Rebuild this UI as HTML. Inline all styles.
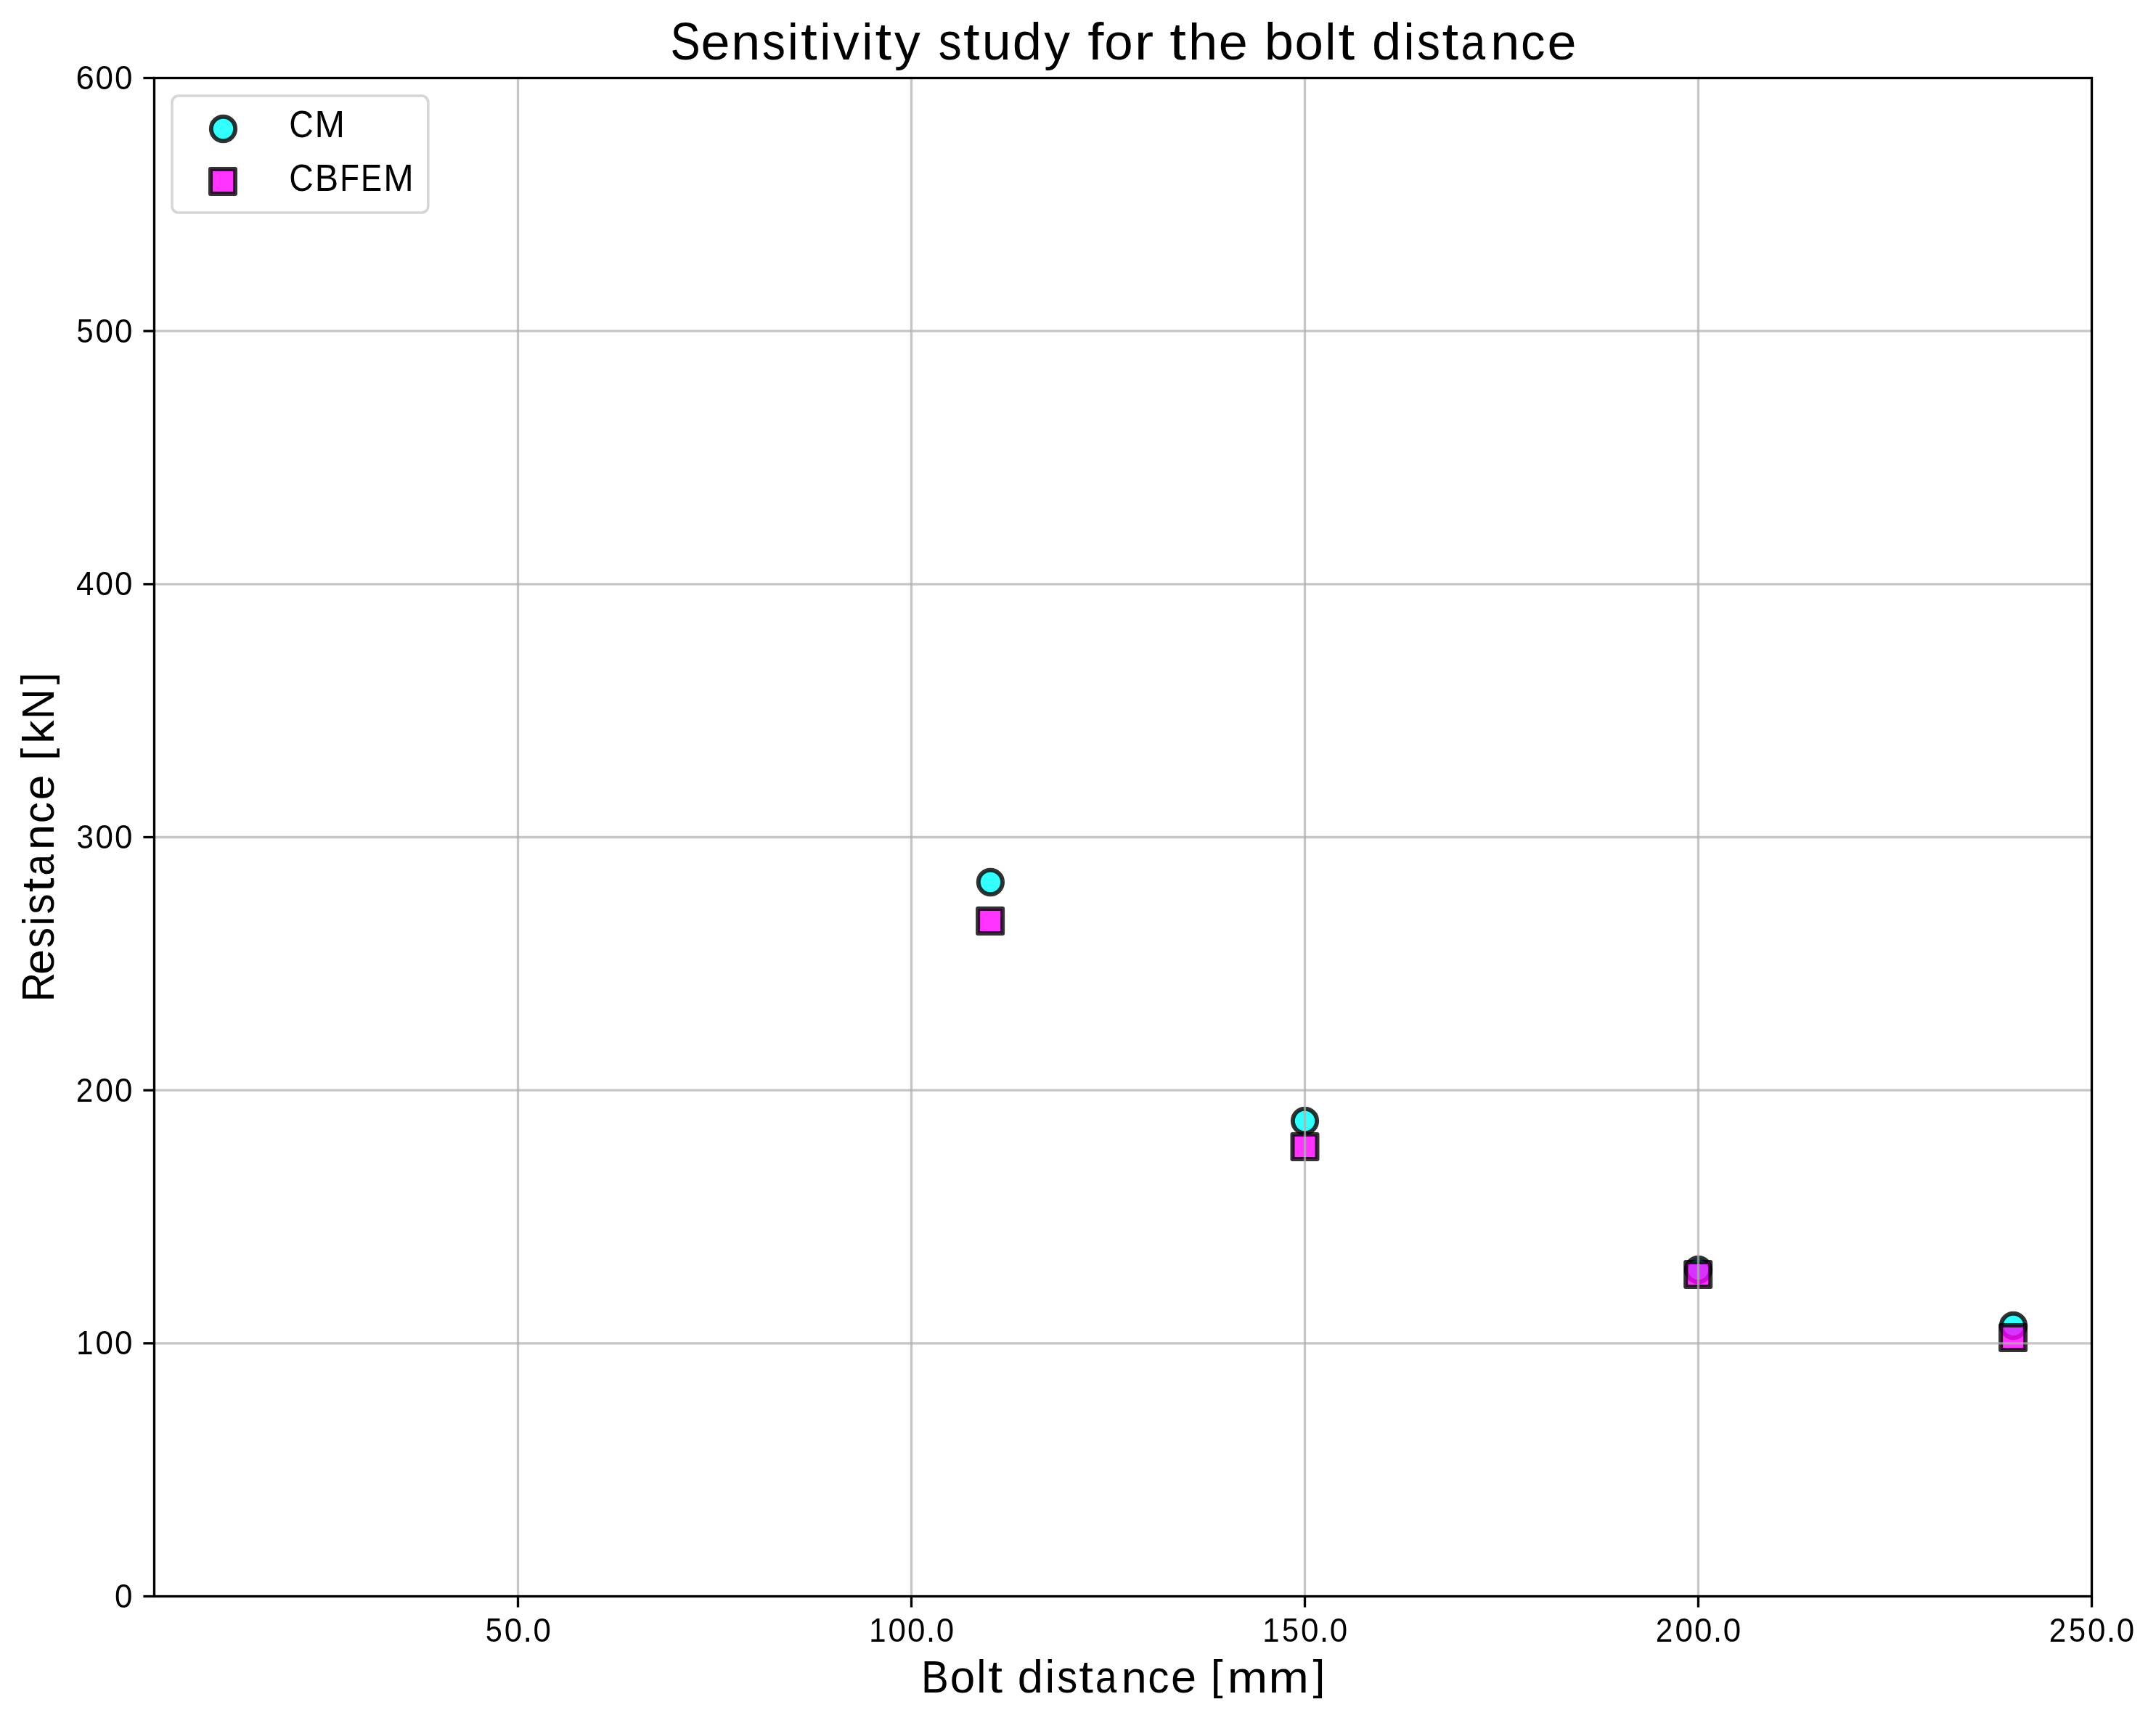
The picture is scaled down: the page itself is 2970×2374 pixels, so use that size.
<!DOCTYPE html>
<html><head><meta charset="utf-8">
<style>
html,body{margin:0;padding:0;background:#fff;width:2970px;height:2374px;overflow:hidden;}
svg{display:block;will-change:transform;}
text{font-family:"Liberation Sans",sans-serif;fill:#000;}
</style></head>
<body>
<svg width="2970" height="2374" viewBox="0 0 2970 2374">
<rect x="0" y="0" width="2970" height="2374" fill="#fff"/>
<g stroke="rgba(0,0,0,0.8)" stroke-width="6.0" stroke-linejoin="round">
<g fill="rgba(0,255,255,0.8)">
<circle cx="1364.40" cy="1215.50" r="16.65"/>
<circle cx="1797.50" cy="1544.50" r="16.65"/>
<circle cx="2339.50" cy="1749.50" r="16.65"/>
<circle cx="2773.50" cy="1826.50" r="16.65"/>
</g>
<g fill="rgba(255,0,255,0.8)">
<rect x="1347.10" y="1252.00" width="34.0" height="34.0"/>
<rect x="1780.50" y="1563.00" width="34.0" height="34.0"/>
<rect x="2322.20" y="1738.90" width="34.0" height="34.0"/>
<rect x="2756.10" y="1826.10" width="34.0" height="34.0"/>
</g>
</g>
<g stroke="rgba(176,176,176,0.72)" stroke-width="3.33">
<line x1="713.50" y1="107.5" x2="713.50" y2="2199.5"/>
<line x1="1255.50" y1="107.5" x2="1255.50" y2="2199.5"/>
<line x1="1797.50" y1="107.5" x2="1797.50" y2="2199.5"/>
<line x1="2339.50" y1="107.5" x2="2339.50" y2="2199.5"/>
<line x1="212.5" y1="1850.83" x2="2881.5" y2="1850.83"/>
<line x1="212.5" y1="1502.17" x2="2881.5" y2="1502.17"/>
<line x1="212.5" y1="1153.50" x2="2881.5" y2="1153.50"/>
<line x1="212.5" y1="804.83" x2="2881.5" y2="804.83"/>
<line x1="212.5" y1="456.17" x2="2881.5" y2="456.17"/>
</g>
<rect x="212.5" y="107.5" width="2669.0" height="2092.0" fill="none" stroke="#000" stroke-width="3.33"/>
<g stroke="#000" stroke-width="3.33">
<line x1="197.40" y1="2199.50" x2="212.5" y2="2199.50"/>
<line x1="197.40" y1="1850.83" x2="212.5" y2="1850.83"/>
<line x1="197.40" y1="1502.17" x2="212.5" y2="1502.17"/>
<line x1="197.40" y1="1153.50" x2="212.5" y2="1153.50"/>
<line x1="197.40" y1="804.83" x2="212.5" y2="804.83"/>
<line x1="197.40" y1="456.17" x2="212.5" y2="456.17"/>
<line x1="197.40" y1="107.50" x2="212.5" y2="107.50"/>
<line x1="713.50" y1="2199.5" x2="713.50" y2="2214.60"/>
<line x1="1255.50" y1="2199.5" x2="1255.50" y2="2214.60"/>
<line x1="1797.50" y1="2199.5" x2="1797.50" y2="2214.60"/>
<line x1="2339.50" y1="2199.5" x2="2339.50" y2="2214.60"/>
<line x1="2881.50" y1="2199.5" x2="2881.50" y2="2214.60"/>
</g>
<text transform="translate(156.99 2215.00)"><tspan x="1.03" y="0" font-size="45.85" textLength="24.43" lengthAdjust="spacingAndGlyphs">0</tspan></text>
<text transform="translate(103.96 1866.00)"><tspan x="1.38" y="0" font-size="45.48" textLength="23.33" lengthAdjust="spacingAndGlyphs">1</tspan><tspan x="27.54" y="0" font-size="45.85" textLength="24.43" lengthAdjust="spacingAndGlyphs">0</tspan><tspan x="54.05" y="0" font-size="45.85" textLength="24.43" lengthAdjust="spacingAndGlyphs">0</tspan></text>
<text transform="translate(103.96 1518.00)"><tspan x="0.92" y="0" font-size="45.62" textLength="23.55" lengthAdjust="spacingAndGlyphs">2</tspan><tspan x="27.54" y="0" font-size="45.85" textLength="24.43" lengthAdjust="spacingAndGlyphs">0</tspan><tspan x="54.05" y="0" font-size="45.85" textLength="24.43" lengthAdjust="spacingAndGlyphs">0</tspan></text>
<text transform="translate(103.96 1169.00)"><tspan x="1.57" y="0" font-size="45.85" textLength="23.46" lengthAdjust="spacingAndGlyphs">3</tspan><tspan x="27.54" y="0" font-size="45.85" textLength="24.43" lengthAdjust="spacingAndGlyphs">0</tspan><tspan x="54.05" y="0" font-size="45.85" textLength="24.43" lengthAdjust="spacingAndGlyphs">0</tspan></text>
<text transform="translate(103.96 820.00)"><tspan x="1.03" y="0" font-size="45.48" textLength="24.43" lengthAdjust="spacingAndGlyphs">4</tspan><tspan x="27.54" y="0" font-size="45.85" textLength="24.43" lengthAdjust="spacingAndGlyphs">0</tspan><tspan x="54.05" y="0" font-size="45.85" textLength="24.43" lengthAdjust="spacingAndGlyphs">0</tspan></text>
<text transform="translate(103.96 472.00)"><tspan x="1.55" y="0" font-size="45.71" textLength="23.06" lengthAdjust="spacingAndGlyphs">5</tspan><tspan x="27.54" y="0" font-size="45.85" textLength="24.43" lengthAdjust="spacingAndGlyphs">0</tspan><tspan x="54.05" y="0" font-size="45.85" textLength="24.43" lengthAdjust="spacingAndGlyphs">0</tspan></text>
<text transform="translate(103.96 123.00)"><tspan x="0.60" y="0" font-size="45.85" textLength="25.28" lengthAdjust="spacingAndGlyphs">6</tspan><tspan x="27.54" y="0" font-size="45.85" textLength="24.43" lengthAdjust="spacingAndGlyphs">0</tspan><tspan x="54.05" y="0" font-size="45.85" textLength="24.43" lengthAdjust="spacingAndGlyphs">0</tspan></text>
<text transform="translate(667.11 2262.00)"><tspan x="1.55" y="0" font-size="45.71" textLength="23.06" lengthAdjust="spacingAndGlyphs">5</tspan><tspan x="27.54" y="0" font-size="45.85" textLength="24.43" lengthAdjust="spacingAndGlyphs">0</tspan><tspan x="53.36" y="0" font-size="49.78" textLength="12.53" lengthAdjust="spacingAndGlyphs">.</tspan><tspan x="67.30" y="0" font-size="45.85" textLength="24.43" lengthAdjust="spacingAndGlyphs">0</tspan></text>
<text transform="translate(1195.85 2262.00)"><tspan x="1.38" y="0" font-size="45.48" textLength="23.33" lengthAdjust="spacingAndGlyphs">1</tspan><tspan x="27.54" y="0" font-size="45.85" textLength="24.43" lengthAdjust="spacingAndGlyphs">0</tspan><tspan x="54.05" y="0" font-size="45.85" textLength="24.43" lengthAdjust="spacingAndGlyphs">0</tspan><tspan x="79.87" y="0" font-size="49.78" textLength="12.53" lengthAdjust="spacingAndGlyphs">.</tspan><tspan x="93.81" y="0" font-size="45.85" textLength="24.43" lengthAdjust="spacingAndGlyphs">0</tspan></text>
<text transform="translate(1737.85 2262.00)"><tspan x="1.38" y="0" font-size="45.48" textLength="23.33" lengthAdjust="spacingAndGlyphs">1</tspan><tspan x="28.07" y="0" font-size="45.71" textLength="23.06" lengthAdjust="spacingAndGlyphs">5</tspan><tspan x="54.05" y="0" font-size="45.85" textLength="24.43" lengthAdjust="spacingAndGlyphs">0</tspan><tspan x="79.87" y="0" font-size="49.78" textLength="12.53" lengthAdjust="spacingAndGlyphs">.</tspan><tspan x="93.81" y="0" font-size="45.85" textLength="24.43" lengthAdjust="spacingAndGlyphs">0</tspan></text>
<text transform="translate(2279.85 2262.00)"><tspan x="0.92" y="0" font-size="45.62" textLength="23.55" lengthAdjust="spacingAndGlyphs">2</tspan><tspan x="27.54" y="0" font-size="45.85" textLength="24.43" lengthAdjust="spacingAndGlyphs">0</tspan><tspan x="54.05" y="0" font-size="45.85" textLength="24.43" lengthAdjust="spacingAndGlyphs">0</tspan><tspan x="79.87" y="0" font-size="49.78" textLength="12.53" lengthAdjust="spacingAndGlyphs">.</tspan><tspan x="93.81" y="0" font-size="45.85" textLength="24.43" lengthAdjust="spacingAndGlyphs">0</tspan></text>
<text transform="translate(2821.85 2262.00)"><tspan x="0.92" y="0" font-size="45.62" textLength="23.55" lengthAdjust="spacingAndGlyphs">2</tspan><tspan x="28.07" y="0" font-size="45.71" textLength="23.06" lengthAdjust="spacingAndGlyphs">5</tspan><tspan x="54.05" y="0" font-size="45.85" textLength="24.43" lengthAdjust="spacingAndGlyphs">0</tspan><tspan x="79.87" y="0" font-size="49.78" textLength="12.53" lengthAdjust="spacingAndGlyphs">.</tspan><tspan x="93.81" y="0" font-size="45.85" textLength="24.43" lengthAdjust="spacingAndGlyphs">0</tspan></text>
<text transform="translate(922.60 82.00)"><tspan x="0.92" y="0" font-size="72.65" textLength="41.19" lengthAdjust="spacingAndGlyphs">S</tspan><tspan x="42.94" y="0" font-size="71.28" textLength="40.05" lengthAdjust="spacingAndGlyphs">e</tspan><tspan x="84.62" y="0" font-size="70.78" textLength="39.98" lengthAdjust="spacingAndGlyphs">n</tspan><tspan x="127.43" y="0" font-size="71.47" textLength="31.95" lengthAdjust="spacingAndGlyphs">s</tspan><tspan x="162.05" y="0" font-size="71.30" textLength="15.14" lengthAdjust="spacingAndGlyphs">i</tspan><tspan x="180.34" y="0" font-size="72.98" textLength="22.71" lengthAdjust="spacingAndGlyphs">t</tspan><tspan x="206.71" y="0" font-size="71.30" textLength="15.14" lengthAdjust="spacingAndGlyphs">i</tspan><tspan x="225.25" y="0" font-size="70.39" textLength="35.98" lengthAdjust="spacingAndGlyphs">v</tspan><tspan x="264.69" y="0" font-size="71.30" textLength="15.14" lengthAdjust="spacingAndGlyphs">i</tspan><tspan x="282.99" y="0" font-size="72.98" textLength="22.71" lengthAdjust="spacingAndGlyphs">t</tspan><tspan x="309.44" y="0" font-size="69.76" textLength="35.80" lengthAdjust="spacingAndGlyphs">y</tspan> <tspan x="370.11" y="0" font-size="71.47" textLength="31.95" lengthAdjust="spacingAndGlyphs">s</tspan><tspan x="404.51" y="0" font-size="72.98" textLength="22.71" lengthAdjust="spacingAndGlyphs">t</tspan><tspan x="430.15" y="0" font-size="72.57" textLength="39.98" lengthAdjust="spacingAndGlyphs">u</tspan><tspan x="472.05" y="0" font-size="71.67" textLength="40.30" lengthAdjust="spacingAndGlyphs">d</tspan><tspan x="515.54" y="0" font-size="69.76" textLength="35.80" lengthAdjust="spacingAndGlyphs">y</tspan> <tspan x="575.78" y="0" font-size="71.40" textLength="22.22" lengthAdjust="spacingAndGlyphs">f</tspan><tspan x="598.55" y="0" font-size="71.28" textLength="39.42" lengthAdjust="spacingAndGlyphs">o</tspan><tspan x="640.20" y="0" font-size="70.78" textLength="26.40" lengthAdjust="spacingAndGlyphs">r</tspan> <tspan x="688.74" y="0" font-size="72.98" textLength="22.71" lengthAdjust="spacingAndGlyphs">t</tspan><tspan x="714.42" y="0" font-size="71.30" textLength="40.25" lengthAdjust="spacingAndGlyphs">h</tspan><tspan x="756.26" y="0" font-size="71.28" textLength="40.05" lengthAdjust="spacingAndGlyphs">e</tspan> <tspan x="819.23" y="0" font-size="71.67" textLength="40.34" lengthAdjust="spacingAndGlyphs">b</tspan><tspan x="860.87" y="0" font-size="71.28" textLength="39.42" lengthAdjust="spacingAndGlyphs">o</tspan><tspan x="902.65" y="0" font-size="71.30" textLength="15.14" lengthAdjust="spacingAndGlyphs">l</tspan><tspan x="920.97" y="0" font-size="72.98" textLength="22.71" lengthAdjust="spacingAndGlyphs">t</tspan> <tspan x="967.45" y="0" font-size="71.67" textLength="40.30" lengthAdjust="spacingAndGlyphs">d</tspan><tspan x="1010.86" y="0" font-size="71.30" textLength="15.14" lengthAdjust="spacingAndGlyphs">i</tspan><tspan x="1029.49" y="0" font-size="71.47" textLength="31.95" lengthAdjust="spacingAndGlyphs">s</tspan><tspan x="1063.88" y="0" font-size="72.98" textLength="22.71" lengthAdjust="spacingAndGlyphs">t</tspan><tspan x="1089.80" y="0" font-size="71.28" textLength="33.69" lengthAdjust="spacingAndGlyphs">a</tspan><tspan x="1130.67" y="0" font-size="70.78" textLength="39.98" lengthAdjust="spacingAndGlyphs">n</tspan><tspan x="1172.48" y="0" font-size="71.28" textLength="33.45" lengthAdjust="spacingAndGlyphs">c</tspan><tspan x="1208.92" y="0" font-size="71.28" textLength="40.05" lengthAdjust="spacingAndGlyphs">e</tspan></text>
<text transform="translate(1268.00 2332.00)"><tspan x="1.08" y="0" font-size="62.80" textLength="37.80" lengthAdjust="spacingAndGlyphs">B</tspan><tspan x="40.63" y="0" font-size="62.12" textLength="34.49" lengthAdjust="spacingAndGlyphs">o</tspan><tspan x="77.18" y="0" font-size="62.14" textLength="13.25" lengthAdjust="spacingAndGlyphs">l</tspan><tspan x="93.26" y="0" font-size="63.60" textLength="19.79" lengthAdjust="spacingAndGlyphs">t</tspan> <tspan x="133.88" y="0" font-size="62.45" textLength="35.26" lengthAdjust="spacingAndGlyphs">d</tspan><tspan x="171.86" y="0" font-size="62.14" textLength="13.25" lengthAdjust="spacingAndGlyphs">i</tspan><tspan x="188.16" y="0" font-size="62.28" textLength="27.96" lengthAdjust="spacingAndGlyphs">s</tspan><tspan x="218.29" y="0" font-size="63.60" textLength="19.79" lengthAdjust="spacingAndGlyphs">t</tspan><tspan x="240.99" y="0" font-size="62.12" textLength="29.36" lengthAdjust="spacingAndGlyphs">a</tspan><tspan x="276.68" y="0" font-size="61.68" textLength="34.98" lengthAdjust="spacingAndGlyphs">n</tspan><tspan x="313.26" y="0" font-size="62.12" textLength="29.26" lengthAdjust="spacingAndGlyphs">c</tspan><tspan x="345.14" y="0" font-size="62.12" textLength="35.04" lengthAdjust="spacingAndGlyphs">e</tspan> <tspan x="399.71" y="-4" font-size="56.69" textLength="16.88" lengthAdjust="spacingAndGlyphs">[</tspan><tspan x="422.67" y="0" font-size="61.68" textLength="55.36" lengthAdjust="spacingAndGlyphs">m</tspan><tspan x="479.49" y="0" font-size="61.68" textLength="55.36" lengthAdjust="spacingAndGlyphs">m</tspan><tspan x="540.62" y="-4" font-size="56.69" textLength="16.88" lengthAdjust="spacingAndGlyphs">]</tspan></text>
<text transform="translate(74.00 1381.40) rotate(-90)"><tspan x="1.15" y="0" font-size="62.55" textLength="40.29" lengthAdjust="spacingAndGlyphs">R</tspan><tspan x="38.45" y="0" font-size="61.87" textLength="35.04" lengthAdjust="spacingAndGlyphs">e</tspan><tspan x="75.40" y="0" font-size="62.04" textLength="27.96" lengthAdjust="spacingAndGlyphs">s</tspan><tspan x="105.69" y="0" font-size="61.89" textLength="13.25" lengthAdjust="spacingAndGlyphs">i</tspan><tspan x="122.00" y="0" font-size="62.04" textLength="27.96" lengthAdjust="spacingAndGlyphs">s</tspan><tspan x="152.17" y="0" font-size="63.35" textLength="19.71" lengthAdjust="spacingAndGlyphs">t</tspan><tspan x="174.89" y="0" font-size="61.87" textLength="29.25" lengthAdjust="spacingAndGlyphs">a</tspan><tspan x="210.52" y="0" font-size="61.44" textLength="34.98" lengthAdjust="spacingAndGlyphs">n</tspan><tspan x="247.10" y="0" font-size="61.87" textLength="29.26" lengthAdjust="spacingAndGlyphs">c</tspan><tspan x="278.98" y="0" font-size="61.87" textLength="35.04" lengthAdjust="spacingAndGlyphs">e</tspan> <tspan x="333.54" y="-4" font-size="56.46" textLength="16.88" lengthAdjust="spacingAndGlyphs">[</tspan><tspan x="356.52" y="0" font-size="61.89" textLength="32.61" lengthAdjust="spacingAndGlyphs">k</tspan><tspan x="390.40" y="0" font-size="62.55" textLength="41.61" lengthAdjust="spacingAndGlyphs">N</tspan><tspan x="438.22" y="-4" font-size="56.46" textLength="16.88" lengthAdjust="spacingAndGlyphs">]</tspan></text>
<rect x="237" y="132" width="352.8" height="161" rx="9" ry="9" fill="rgba(255,255,255,0.8)" stroke="#d6d6d6" stroke-width="3.6"/>
<g stroke="rgba(0,0,0,0.8)" stroke-width="6.0" stroke-linejoin="round">
<circle cx="307.5" cy="177.5" r="16.65" fill="rgba(0,255,255,0.8)"/>
<rect x="290.0" y="232.9" width="34.0" height="34.0" fill="rgba(255,0,255,0.8)"/>
</g>
<text transform="translate(397.80 189.00)"><tspan x="0.45" y="0" font-size="51.81" textLength="33.52" lengthAdjust="spacingAndGlyphs">C</tspan><tspan x="35.73" y="0" font-size="51.39" textLength="41.53" lengthAdjust="spacingAndGlyphs">M</tspan></text>
<text transform="translate(397.80 263.00)"><tspan x="0.45" y="0" font-size="51.81" textLength="33.52" lengthAdjust="spacingAndGlyphs">C</tspan><tspan x="35.83" y="0" font-size="51.39" textLength="32.40" lengthAdjust="spacingAndGlyphs">B</tspan><tspan x="70.34" y="0" font-size="51.39" textLength="26.68" lengthAdjust="spacingAndGlyphs">F</tspan><tspan x="99.20" y="0" font-size="51.39" textLength="29.14" lengthAdjust="spacingAndGlyphs">E</tspan><tspan x="130.38" y="0" font-size="51.39" textLength="41.53" lengthAdjust="spacingAndGlyphs">M</tspan></text>
</svg>
</body></html>
